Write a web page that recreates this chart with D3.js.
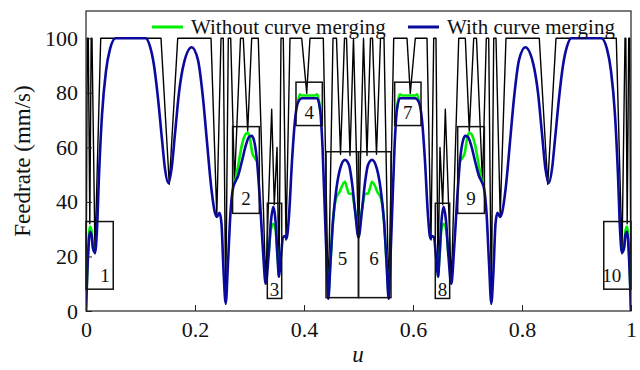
<!DOCTYPE html>
<html><head><meta charset="utf-8">
<script src="https://cdn.jsdelivr.net/npm/d3@7"></script>
<style>
body{margin:0;background:#fff}
svg{display:block}
svg text{font-family:"Liberation Serif","DejaVu Serif","Times New Roman",serif !important;fill:#111}
</style>
</head><body>
<svg id="chart" width="640" height="370"></svg>
<script>
// Axis ticks
const xTicks = [0, 0.2, 0.4, 0.6, 0.8, 1];
const xTickLabels = ["0", "0.2", "0.4", "0.6", "0.8", "1"];
const yTicks = [0, 20, 40, 60, 80, 100];
const seriesNames = ["Without curve merging", "With curve merging"];

// Feedrate limit curve (u, mm/s)
const limitCurve = [
  [0,0],[0.0024,100],[0.0042,100],[0.0070,32],[0.0095,100],[0.0110,100],[0.0165,21],[0.0270,100],
  [0.1376,100],[0.1528,46.5],[0.1683,100],[0.2294,100],[0.2400,35],[0.2477,100],[0.2519,100],
  [0.2563,2.5],[0.2611,100],[0.2655,100],[0.2725,47],[0.2835,100],[0.2886,100],[0.2967,66],
  [0.3040,100],[0.3161,100],[0.3297,10],[0.3407,74],[0.3455,39],[0.3505,60],[0.3541,12.5],
  [0.3578,100],[0.3620,100],[0.3670,26],[0.3743,100],[0.3958,100],[0.4050,79.8],[0.4110,100],
  [0.4354,100],[0.4446,4.5],[0.4532,100],[0.4596,100],[0.4670,57.5],[0.4743,100],[0.4780,100],
  [0.4844,57],[0.4908,100],[0.5,27],
  [0.5092,100],[0.5156,57],[0.5220,100],[0.5257,100],[0.5330,57.5],[0.5404,100],[0.5468,100],
  [0.5554,4.5],[0.5646,100],[0.5890,100],[0.5950,79.8],[0.6042,100],[0.6257,100],[0.6330,26],
  [0.6380,100],[0.6422,100],[0.6459,12.5],[0.6495,60],[0.6545,39],[0.6593,74],[0.6703,10],
  [0.6839,100],[0.6960,100],[0.7033,66],[0.7114,100],[0.7165,100],[0.7275,47],[0.7345,100],
  [0.7389,100],[0.7437,2.5],[0.7481,100],[0.7523,100],[0.7600,35],[0.7706,100],[0.8317,100],
  [0.8472,46.5],[0.8624,100],[0.9730,100],[0.9835,21],[0.9890,100],[0.9905,100],[0.9930,32],
  [0.9958,100],[0.9976,100],[1,0]
];

// Scheduled feedrate with curve merging
const mergedFeed = [
  [0,0],[0.0037,20],[0.0073,29],[0.0101,28],[0.0128,23],[0.0165,21.4],[0.0202,30],[0.0239,50],
  [0.0294,72],[0.0367,88],[0.044,96],[0.0545,100],[0.1095,100],[0.1174,97],[0.1248,90],
  [0.1321,78],[0.1394,63],[0.145,52],[0.151,46.9],[0.1569,52],[0.1633,65],[0.1706,80],
  [0.1798,91],[0.1939,96.7],[0.2055,92],[0.2147,78],[0.222,62],[0.2294,46],[0.2367,36],
  [0.2404,34.5],[0.245,36],[0.2486,32],[0.2523,15],[0.2563,2.8],[0.2606,18],[0.2651,36],
  [0.2697,45],[0.2734,47.2],[0.2789,49.5],[0.2862,55],[0.2936,61],[0.2991,63.8],[0.304,64.2],
  [0.3083,62.5],[0.3138,55],[0.3193,40],[0.3248,22],[0.3297,10],[0.3349,20],[0.3394,33],
  [0.3437,38.2],[0.3477,33],[0.3514,20],[0.3541,12.6],[0.3578,20],[0.3615,27],[0.3651,27.5],
  [0.3679,26.5],[0.3725,35],[0.378,55],[0.3835,70],[0.389,76.5],[0.3963,78],[0.4239,78],
  [0.4294,74],[0.434,60],[0.4385,35],[0.4422,15],[0.4446,4.5],[0.4486,18],[0.4532,33],
  [0.4596,45],[0.4661,52],[0.4752,55.4],[0.4826,53.5],[0.4881,47],[0.4936,37],[0.5,27],
  [0.5064,37],[0.5119,47],[0.5174,53.5],[0.5248,55.4],[0.5339,52],[0.5404,45],[0.5468,33],
  [0.5514,18],[0.5554,4.5],[0.5578,15],[0.5615,35],[0.5661,60],[0.5706,74],[0.5761,78],
  [0.6037,78],[0.611,76.5],[0.6165,70],[0.622,55],[0.6275,35],[0.6321,26.5],[0.6349,27.5],
  [0.6385,27],[0.6422,20],[0.6459,12.6],[0.6486,20],[0.6523,33],[0.6563,38.2],[0.6606,33],
  [0.6651,20],[0.6703,10],[0.6752,22],[0.6807,40],[0.6862,55],[0.6917,62.5],[0.696,64.2],
  [0.7009,63.8],[0.7064,61],[0.7138,55],[0.7211,49.5],[0.7266,47.2],[0.7303,45],[0.7349,36],
  [0.7394,18],[0.7437,2.8],[0.7477,15],[0.7514,32],[0.755,36],[0.7596,34.5],[0.7633,36],
  [0.7706,46],[0.778,62],[0.7853,78],[0.7945,92],[0.8061,96.7],[0.8202,91],[0.8294,80],
  [0.8367,65],[0.8431,52],[0.849,46.9],[0.855,52],[0.8606,63],[0.8679,78],[0.8752,90],
  [0.8826,97],[0.8905,100],[0.9455,100],[0.956,96],[0.9633,88],[0.9706,72],[0.9761,50],
  [0.9798,30],[0.9835,21.4],[0.9872,23],[0.9899,28],[0.9927,29],[0.9963,20],[1,0]
];

// Scheduled feedrate without curve merging, where it departs from the merged profile
const unmergedFeed = [
  [[0,0],[0.0037,22],[0.0073,31],[0.0101,29.5],[0.0128,23.5],[0.0165,21.4]],
  [[0.2734,47.2],[0.2789,53],[0.2862,61],[0.2936,65],[0.2972,65.3],[0.3010,63],[0.3050,58],[0.3100,56],[0.3138,55]],
  [[0.3349,20],[0.3394,30],[0.3437,32],[0.3477,30],[0.3514,20],[0.3541,12.6]],
  [[0.389,77],[0.3925,79.5],[0.3963,79],[0.405,79],[0.41,79],[0.42,79],[0.4239,79.5],[0.4275,77],[0.4294,74]],
  [[0.4446,4.5],[0.4486,18],[0.4532,33],[0.4578,40.5],[0.4615,42.5],[0.465,43.5],[0.469,45.5],[0.4752,47.4],[0.479,45],[0.4826,43],[0.4881,43],[0.4936,37],[0.5,27]],
  [[0.5,27],[0.5064,37],[0.5119,43],[0.5174,43],[0.521,45],[0.5248,47.4],[0.531,45.5],[0.535,43.5],[0.5385,42.5],[0.5422,40.5],[0.5468,33],[0.5514,18],[0.5554,4.5]],
  [[0.5706,74],[0.5725,77],[0.5761,79.5],[0.58,79],[0.59,79],[0.595,79],[0.6037,79],[0.6075,79.5],[0.611,77]],
  [[0.6459,12.6],[0.6486,20],[0.6523,30],[0.6563,32],[0.6606,30],[0.6651,20]],
  [[0.6862,55],[0.69,56],[0.695,58],[0.699,63],[0.7028,65.3],[0.7064,65],[0.7138,61],[0.7211,53],[0.7266,47.2]],
  [[0.9835,21.4],[0.9872,23.5],[0.9899,29.5],[0.9927,31],[0.9963,22],[1,0]]
];

// Numbered zoom regions: [label, u0, u1, Flow, Fhigh, labelU, labelF]
const regions = [
  ["1", 0, 0.050, 8, 32.8, 0.035, 10.5],
  ["2", 0.269, 0.318, 35.8, 67.6, 0.2935, 39],
  ["3", 0.3327, 0.3591, 4.6, 39.5, 0.346, 5.5],
  ["4", 0.3853, 0.4336, 68, 83.9, 0.4095, 70.5],
  ["5", 0.4404, 0.5, 4.9, 58.4, 0.4705, 17],
  ["6", 0.5, 0.5596, 4.9, 58.4, 0.5285, 17],
  ["7", 0.5664, 0.6147, 68, 83.9, 0.5905, 70.5],
  ["8", 0.6409, 0.6673, 4.6, 39.5, 0.654, 5.5],
  ["9", 0.682, 0.731, 35.8, 67.6, 0.7065, 39],
  ["10", 0.95, 1.0, 8, 32.8, 0.9645, 10.5]
];

const svg = d3.select("#chart");
const x = d3.scaleLinear().domain([0, 1]).range([86, 631]);
const y = d3.scaleLinear().domain([0, 110]).range([311, 11]);

svg.append("defs").append("clipPath").attr("id", "plot")
  .append("rect").attr("x", 86).attr("y", 11).attr("width", 545).attr("height", 300);

const gPlot = svg.append("g").attr("clip-path", "url(#plot)");

// feedrate limit
gPlot.append("path")
  .datum(limitCurve)
  .attr("fill", "none").attr("stroke", "#000").attr("stroke-width", 1.4)
  .attr("stroke-linejoin", "round")
  .attr("d", d3.line().x(d => x(d[0])).y(d => y(d[1])));

const smooth = d3.line().curve(d3.curveMonotoneX).x(d => x(d[0])).y(d => y(d[1]));

// without merging
gPlot.selectAll("path.unmerged").data(unmergedFeed).join("path")
  .attr("class", "unmerged")
  .attr("fill", "none").attr("stroke", "#00ee00").attr("stroke-width", 2.6)
  .attr("d", smooth);

// with merging
gPlot.append("path").datum(mergedFeed)
  .attr("fill", "none").attr("stroke", "#0a0a9e").attr("stroke-width", 2.6)
  .attr("stroke-linejoin", "round")
  .attr("d", smooth);

// region boxes
const gBox = svg.append("g");
gBox.selectAll("rect").data(regions).join("rect")
  .attr("x", d => x(d[1])).attr("y", d => y(d[4]))
  .attr("width", d => x(d[2]) - x(d[1])).attr("height", d => y(d[3]) - y(d[4]))
  .attr("fill", "none").attr("stroke", "#111").attr("stroke-width", 1.5);
gBox.selectAll("text").data(regions).join("text")
  .attr("x", d => x(d[5])).attr("y", d => y(d[6]))
  .attr("text-anchor", "middle").attr("font-size", 19)
  .text(d => d[0]);

// axes
const xAxis = d3.axisBottom(x).tickValues(xTicks).tickFormat((d, i) => xTickLabels[i])
  .tickSizeInner(-6).tickSizeOuter(0).tickPadding(10);
const yAxis = d3.axisLeft(y).tickValues(yTicks).tickSizeInner(-6).tickSizeOuter(0).tickPadding(8);
const gx = svg.append("g").attr("transform", "translate(0,311)").call(xAxis);
const gy = svg.append("g").attr("transform", "translate(86,0)").call(yAxis);
[gx, gy].forEach(g => {
  g.attr("font-family", null);
  g.select(".domain").remove();
  g.selectAll("text").attr("font-size", 22).attr("fill", "#111");
  g.selectAll("line").attr("stroke", "#222");
});

svg.append("rect").attr("x", 86).attr("y", 11).attr("width", 545).attr("height", 300)
  .attr("fill", "none").attr("stroke", "#222").attr("stroke-width", 1.2);

// axis titles
svg.append("text").attr("x", 358).attr("y", 362).attr("text-anchor", "middle")
  .attr("font-size", 23).attr("font-style", "italic").text("u");
svg.append("text").attr("transform", "translate(30,161) rotate(-90)")
  .attr("text-anchor", "middle").attr("font-size", 23).text("Feedrate (mm/s)");

// legend
const legend = [
  {name: seriesNames[0], color: "#00ee00", x0: 152},
  {name: seriesNames[1], color: "#0a0a9e", x0: 408}
];
const gL = svg.append("g");
legend.forEach(l => {
  gL.append("line").attr("x1", l.x0).attr("x2", l.x0 + 31).attr("y1", 27).attr("y2", 27)
    .attr("stroke", l.color).attr("stroke-width", 3);
  gL.append("text").attr("x", l.x0 + 39).attr("y", 34).attr("font-size", 21).text(l.name);
});
</script>
</body></html>
